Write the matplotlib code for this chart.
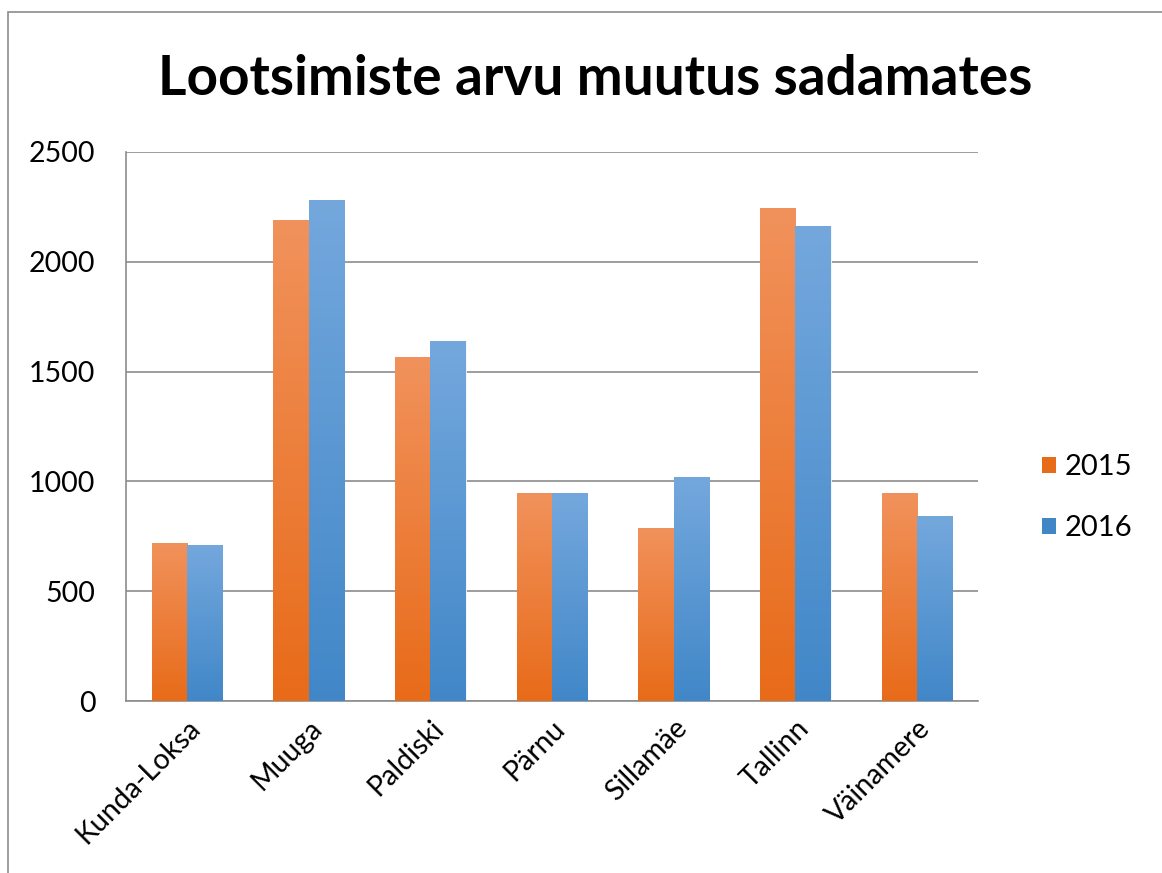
import numpy as np
import matplotlib.pyplot as plt
from matplotlib.colors import LinearSegmentedColormap
from matplotlib.patches import Rectangle, Patch

# ==============================
# Data
# ==============================
ports = ["Kunda-Loksa", "Muuga", "Paldiski", "Pärnu", "Sillamäe", "Tallinn", "Väinamere"]
y2015 = [720, 2190, 1565, 945, 788, 2245, 945]
y2016 = [712, 2282, 1638, 945, 1020, 2163, 842]
years = ["2015", "2016"]

title = "Lootsimiste arvu muutus sadamates"

# gradient colors (top, bottom)
orange = ("#F1925C", "#E86B19")
blue = ("#74A8DD", "#4187C8")

plt.rcParams["font.family"] = ["Lato", "DejaVu Sans"]

# ==============================
# Figure
# ==============================
fig = plt.figure(figsize=(11.62, 8.73), dpi=100)
ax = fig.add_axes([0.1084, 0.197, 0.7332, 0.6289])

# chart border (top + left visible, rest runs off the picture)
fig.patches.append(Rectangle((8 / 1162, -0.05), 1.2, 1 - 12 / 873 + 0.05,
                             transform=fig.transFigure, fill=False,
                             edgecolor="#8c8c8c", linewidth=1.2))

x = np.arange(len(ports))
w = 0.29

bars1 = ax.bar(x - w / 2, y2015, w, color=orange[1], zorder=2)
bars2 = ax.bar(x + w / 2, y2016, w, color=blue[1], zorder=2)


def add_gradient(bars, cols):
    cmap = LinearSegmentedColormap.from_list("g", [cols[1], cols[0]])
    grad = np.linspace(0, 1, 256).reshape(-1, 1)
    for b in bars:
        x0 = b.get_x()
        x1 = x0 + b.get_width()
        h = b.get_height()
        im = ax.imshow(grad, extent=(x0, x1, 0, h), origin="lower",
                       cmap=cmap, aspect="auto", zorder=3)
        im.set_clip_path(b)
        b.set_edgecolor("white")
        b.set_linewidth(0.6)


add_gradient(bars1, orange)
add_gradient(bars2, blue)

ax.set_xlim(-0.5, len(ports) - 0.5)
ax.set_ylim(0, 2500)
ax.set_yticks(range(0, 2501, 500))
ax.yaxis.grid(True, color="#8c8c8c", linewidth=1.2, zorder=0)
ax.set_axisbelow(True)

for s in ["top", "right"]:
    ax.spines[s].set_visible(False)
for s in ["left", "bottom"]:
    ax.spines[s].set_color("#8c8c8c")
    ax.spines[s].set_linewidth(1.2)

ax.tick_params(axis="both", length=0, labelsize=20.5, colors="black")
ax.tick_params(axis="y", pad=22)
ax.set_xticks(x)
ax.set_xticklabels(ports, rotation=45, ha="right", rotation_mode="anchor")
ax.tick_params(axis="x", pad=10)

fig.text(0.512, 0.91, title, ha="center", va="center",
         fontsize=39.5, fontweight="bold")

handles = [Patch(facecolor=orange[1], edgecolor="none"),
           Patch(facecolor=blue[1], edgecolor="none")]
fig.legend(handles, years, loc="center left", bbox_to_anchor=(0.874, 0.43),
           frameon=False, fontsize=21, handlelength=0.48, handleheight=0.48,
           handletextpad=0.3, labelspacing=1.2)

fig.savefig("out.png", dpi=100)
